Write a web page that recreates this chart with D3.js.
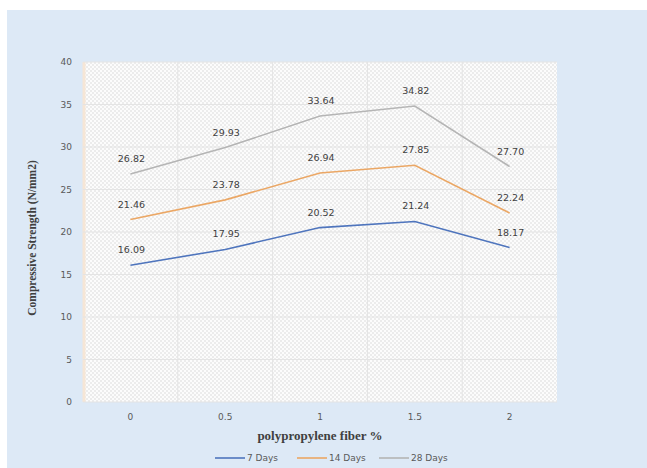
<!DOCTYPE html>
<html>
<head>
<meta charset="utf-8">
<script src="https://cdn.jsdelivr.net/npm/d3@7"></script>
<style>
  html, body { margin: 0; padding: 0; background: #ffffff; }
  svg { display: block; }
</style>
</head>
<body>
<svg id="chart" width="647" height="468"></svg>
<script>
// Compressive strength of concrete vs polypropylene fiber content
const categories = ["0", "0.5", "1", "1.5", "2"];
const days7  = [16.09, 17.95, 20.52, 21.24, 18.17];
const days14 = [21.46, 23.78, 26.94, 27.85, 22.24];
const days28 = [26.82, 29.93, 33.64, 34.82, 27.70];
const seriesNames = ["7 Days", "14 Days", "28 Days"];
const yTicks = [0, 5, 10, 15, 20, 25, 30, 35, 40];

const series = [
  { name: seriesNames[0], values: days7,  color: "#4f75bd" },
  { name: seriesNames[1], values: days14, color: "#eba765" },
  { name: seriesNames[2], values: days28, color: "#b5b5b5" }
];

const svg = d3.select("#chart");
const W = 647, H = 468;

// chart panel background
svg.append("rect")
  .attr("x", 7).attr("y", 10)
  .attr("width", W - 7).attr("height", H - 10)
  .attr("fill", "#dde9f6");

const plot = { left: 83, right: 557, top: 62, bottom: 402 };

// fine checker fill for the plot area
const defs = svg.append("defs");
const pat = defs.append("pattern")
  .attr("id", "checker")
  .attr("width", 4).attr("height", 4)
  .attr("patternUnits", "userSpaceOnUse");
pat.append("rect").attr("width", 4).attr("height", 4).attr("fill", "#fcfcfc");
pat.append("rect").attr("width", 2).attr("height", 2).attr("fill", "#ececec");
pat.append("rect").attr("x", 2).attr("y", 2).attr("width", 2).attr("height", 2).attr("fill", "#ececec");

svg.append("rect")
  .attr("x", plot.left).attr("y", plot.top)
  .attr("width", plot.right - plot.left).attr("height", plot.bottom - plot.top)
  .attr("fill", "url(#checker)");
// thin warm edge on the plot's left side
svg.append("line")
  .attr("x1", plot.left + 1).attr("x2", plot.left + 1)
  .attr("y1", plot.top).attr("y2", plot.bottom)
  .attr("stroke", "#f6e6d6").attr("stroke-width", 3);

const x = d3.scaleBand()
  .domain(categories)
  .range([plot.left, plot.right]);
const y = d3.scaleLinear()
  .domain([0, 40])
  .range([plot.bottom, plot.top]);

// horizontal gridlines
svg.append("g")
  .selectAll("line")
  .data(yTicks)
  .join("line")
  .attr("x1", plot.left).attr("x2", plot.right)
  .attr("y1", d => y(d)).attr("y2", d => y(d))
  .attr("stroke", "#e4e4e4").attr("stroke-width", 1);

// vertical gridlines at category boundaries
svg.append("g")
  .selectAll("line")
  .data(categories.slice(1))
  .join("line")
  .attr("x1", d => x(d)).attr("x2", d => x(d))
  .attr("y1", plot.top).attr("y2", plot.bottom)
  .attr("stroke", "#e4e4e4").attr("stroke-width", 1);

// y axis labels
const yAxis = d3.axisLeft(y).tickValues(yTicks).tickSize(0).tickPadding(11);
const gy = svg.append("g")
  .attr("transform", `translate(${plot.left},0)`)
  .call(yAxis);
gy.select(".domain").remove();
gy.selectAll("text")
  .attr("font-family", "DejaVu Sans, sans-serif")
  .attr("font-size", 9)
  .attr("fill", "#595959");

// x axis labels
const xAxis = d3.axisBottom(x).tickSize(0).tickPadding(12);
const gx = svg.append("g")
  .attr("transform", `translate(0,${plot.bottom})`)
  .call(xAxis);
gx.select(".domain").remove();
gx.selectAll("text")
  .attr("font-family", "DejaVu Sans, sans-serif")
  .attr("font-size", 9)
  .attr("fill", "#595959");

// series lines and value labels
const line = d3.line()
  .x((d, i) => x(categories[i]) + x.bandwidth() / 2)
  .y(d => y(d));

series.forEach(s => {
  svg.append("path")
    .datum(s.values)
    .attr("d", line)
    .attr("fill", "none")
    .attr("stroke", s.color)
    .attr("stroke-width", 1.6);

  svg.append("g")
    .selectAll("text")
    .data(s.values)
    .join("text")
    .attr("x", (d, i) => x(categories[i]) + x.bandwidth() / 2 + 1)
    .attr("y", d => y(d) - 12)
    .attr("text-anchor", "middle")
    .attr("font-family", "DejaVu Sans, sans-serif")
    .attr("font-size", 9.5)
    .attr("fill", "#404040")
    .text(d => d.toFixed(2));
});

// axis titles
svg.append("text")
  .attr("x", (plot.left + plot.right) / 2)
  .attr("y", 440)
  .attr("text-anchor", "middle")
  .attr("font-family", "Liberation Serif, Times New Roman, serif")
  .attr("font-weight", "bold")
  .attr("font-size", 13)
  .attr("fill", "#404040")
  .text("polypropylene fiber %");

svg.append("text")
  .attr("transform", `translate(36,${(plot.top + plot.bottom) / 2 + 6}) rotate(-90)`)
  .attr("text-anchor", "middle")
  .attr("font-family", "Liberation Serif, Times New Roman, serif")
  .attr("font-weight", "bold")
  .attr("font-size", 11.5)
  .attr("fill", "#404040")
  .text("Compressive Strength (N/mm2)");

// legend
const legendX = [215, 297, 379];
const legend = svg.append("g");
series.forEach((s, i) => {
  const g = legend.append("g").attr("transform", `translate(${legendX[i]},458)`);
  g.append("line")
    .attr("x1", 0).attr("x2", 30)
    .attr("y1", 0).attr("y2", 0)
    .attr("stroke", s.color).attr("stroke-width", 1.6);
  g.append("text")
    .attr("x", 32).attr("y", 3)
    .attr("font-family", "DejaVu Sans, sans-serif")
    .attr("font-size", 9)
    .attr("fill", "#595959")
    .text(s.name);
});
</script>
</body>
</html>
